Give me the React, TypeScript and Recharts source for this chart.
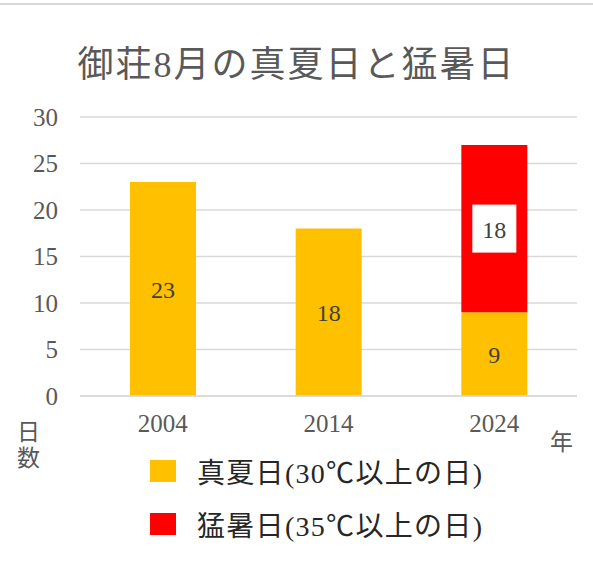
import { BarChart, Bar, XAxis, YAxis, CartesianGrid, LabelList } from 'recharts';

// 御荘 8月の真夏日・猛暑日の日数
const years = ['2004', '2014', '2024'];
const manatsubi = [23, 18, 9]; // 真夏日 (30℃以上、猛暑日を除く)
const moshobi = [0, 0, 18]; // 猛暑日 (35℃以上)
const yTicks = [0, 5, 10, 15, 20, 25, 30];

const data = years.map((year, i) => ({
  year,
  manatsubi: manatsubi[i],
  moshobi: moshobi[i],
}));

const serif = '"Liberation Serif", "Noto Sans CJK JP", serif';
const grey = '#595959';

const renderBoxedLabel = (props: any) => {
  const { x, y, width, height, value } = props;
  if (!value) return null;
  const cx = x + width / 2;
  const cy = y + height / 2;
  return (
    <g>
      <rect x={cx - 22} y={cy - 24} width={44} height={48} fill="#ffffff" />
      <text
        x={cx}
        y={cy + 1}
        textAnchor="middle"
        dominantBaseline="central"
        fill="#404040"
        fontSize={24}
        fontFamily={serif}
      >
        {value}
      </text>
    </g>
  );
};

const legendItems = [
  { label: '真夏日(30℃以上の日)', color: '#FFC000' },
  { label: '猛暑日(35℃以上の日)', color: '#FF0000' },
];

export default function App() {
  return (
    <div style={{ position: 'absolute', left: 0, top: 0, width: 593, height: 562, background: '#fff' }}>
      <div style={{ position: 'absolute', left: 0, top: 3, width: 593, height: 2, background: '#d9d9d9' }} />
      <div
        style={{
          position: 'absolute',
          left: 0,
          top: 35,
          width: 593,
          textAlign: 'center',
          fontFamily: serif,
          fontSize: 36,
          color: grey,
          letterSpacing: 2,
        }}
      >
        御荘8月の真夏日と猛暑日
      </div>

      <BarChart
        width={593}
        height={562}
        data={data}
        margin={{ top: 117, right: 16, bottom: 136, left: 0 }}
        barSize={66}
      >
        <CartesianGrid vertical={false} stroke="#d9d9d9" strokeWidth={1.5} />
        <XAxis
          dataKey="year"
          height={30}
          axisLine={{ stroke: '#d9d9d9', strokeWidth: 1.5 }}
          tickLine={false}
          tickMargin={12}
          tick={{ fill: grey, fontSize: 25, fontFamily: serif }}
        />
        <YAxis
          width={80}
          domain={[0, 30]}
          ticks={yTicks}
          axisLine={false}
          tickLine={false}
          tickMargin={16}
          tick={{ fill: grey, fontSize: 25, fontFamily: serif }}
        />
        <Bar dataKey="manatsubi" stackId="a" fill="#FFC000" isAnimationActive={false}>
          <LabelList
            dataKey="manatsubi"
            position="center"
            fill="#404040"
            fontSize={24}
            fontFamily={serif}
          />
        </Bar>
        <Bar dataKey="moshobi" stackId="a" fill="#FF0000" isAnimationActive={false}>
          <LabelList dataKey="moshobi" content={renderBoxedLabel} />
        </Bar>
      </BarChart>

      <div
        style={{
          position: 'absolute',
          left: 17,
          top: 420,
          width: 24,
          fontFamily: serif,
          fontSize: 23,
          lineHeight: '26px',
          color: grey,
        }}
      >
        日<br />数
      </div>
      <div
        style={{
          position: 'absolute',
          left: 550,
          top: 423,
          fontFamily: serif,
          fontSize: 23,
          color: grey,
        }}
      >
        年
      </div>

      <div style={{ position: 'absolute', left: 150, top: 444 }}>
        {legendItems.map((item) => (
          <div key={item.label} style={{ display: 'flex', alignItems: 'center', height: 53 }}>
            <div style={{ width: 26, height: 22, background: item.color, marginRight: 21 }} />
            <span style={{ fontFamily: serif, fontSize: 28, letterSpacing: 1.3, color: '#262626' }}>
              {item.label}
            </span>
          </div>
        ))}
      </div>
    </div>
  );
}
